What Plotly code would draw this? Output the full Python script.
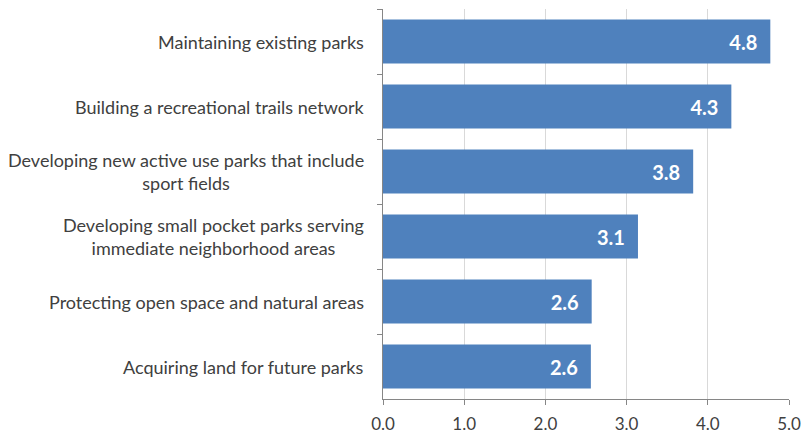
import plotly.graph_objects as go

categories = [
    "Maintaining existing parks",
    "Building a recreational trails network",
    "Developing new active use parks that include<br>sport fields",
    "Developing small pocket parks serving<br>immediate neighborhood areas",
    "Protecting open space and natural areas",
    "Acquiring land for future parks",
]
values = [4.77, 4.29, 3.82, 3.14, 2.57, 2.56]
x_ticks = [0, 1, 2, 3, 4, 5]
x_tick_labels = ["0.0", "1.0", "2.0", "3.0", "4.0", "5.0"]

FONT = "Lato"
TEXT = "#404040"

fig = go.Figure()
fig.add_trace(go.Bar(
    x=values, y=categories, orientation="h",
    marker=dict(color="#4F81BD", line=dict(width=0)),
    texttemplate="%{x:.1f}\u2002",
    textposition="inside", insidetextanchor="end",
    textfont=dict(family=FONT, size=20, color="white", weight="bold"),
    hoverinfo="skip",
))

for c in categories:
    fig.add_annotation(
        x=0, xref="paper", y=c, yref="y", xanchor="right", yanchor="middle",
        xshift=-17, text=c, align="center", showarrow=False,
        font=dict(family=FONT, size=18, color=TEXT),
    )

fig.update_layout(
    width=804, height=435,
    margin=dict(l=383, r=15, t=9, b=36),
    paper_bgcolor="white", plot_bgcolor="white",
    bargap=0.32, showlegend=False,
    xaxis=dict(
        range=[0, 5], tickvals=x_ticks, ticktext=x_tick_labels,
        showgrid=True, gridcolor="#D9D9D9", gridwidth=1,
        zeroline=False, showline=True, linecolor="#868686", linewidth=1,
        ticks="outside", ticklen=5, tickcolor="#868686",
        tickfont=dict(family=FONT, size=17, color=TEXT),
        ticklabelstandoff=5, automargin=False,
    ),
    yaxis=dict(
        autorange="reversed", showticklabels=False,
        showline=True, linecolor="#868686", linewidth=1,
        ticks="outside", ticklen=5, tickcolor="#868686", tickson="boundaries",
        showgrid=False, zeroline=False, automargin=False,
    ),
)

fig.write_html("out.html", config={"displayModeBar": False},
               post_script="document.body.style.margin='0';")
